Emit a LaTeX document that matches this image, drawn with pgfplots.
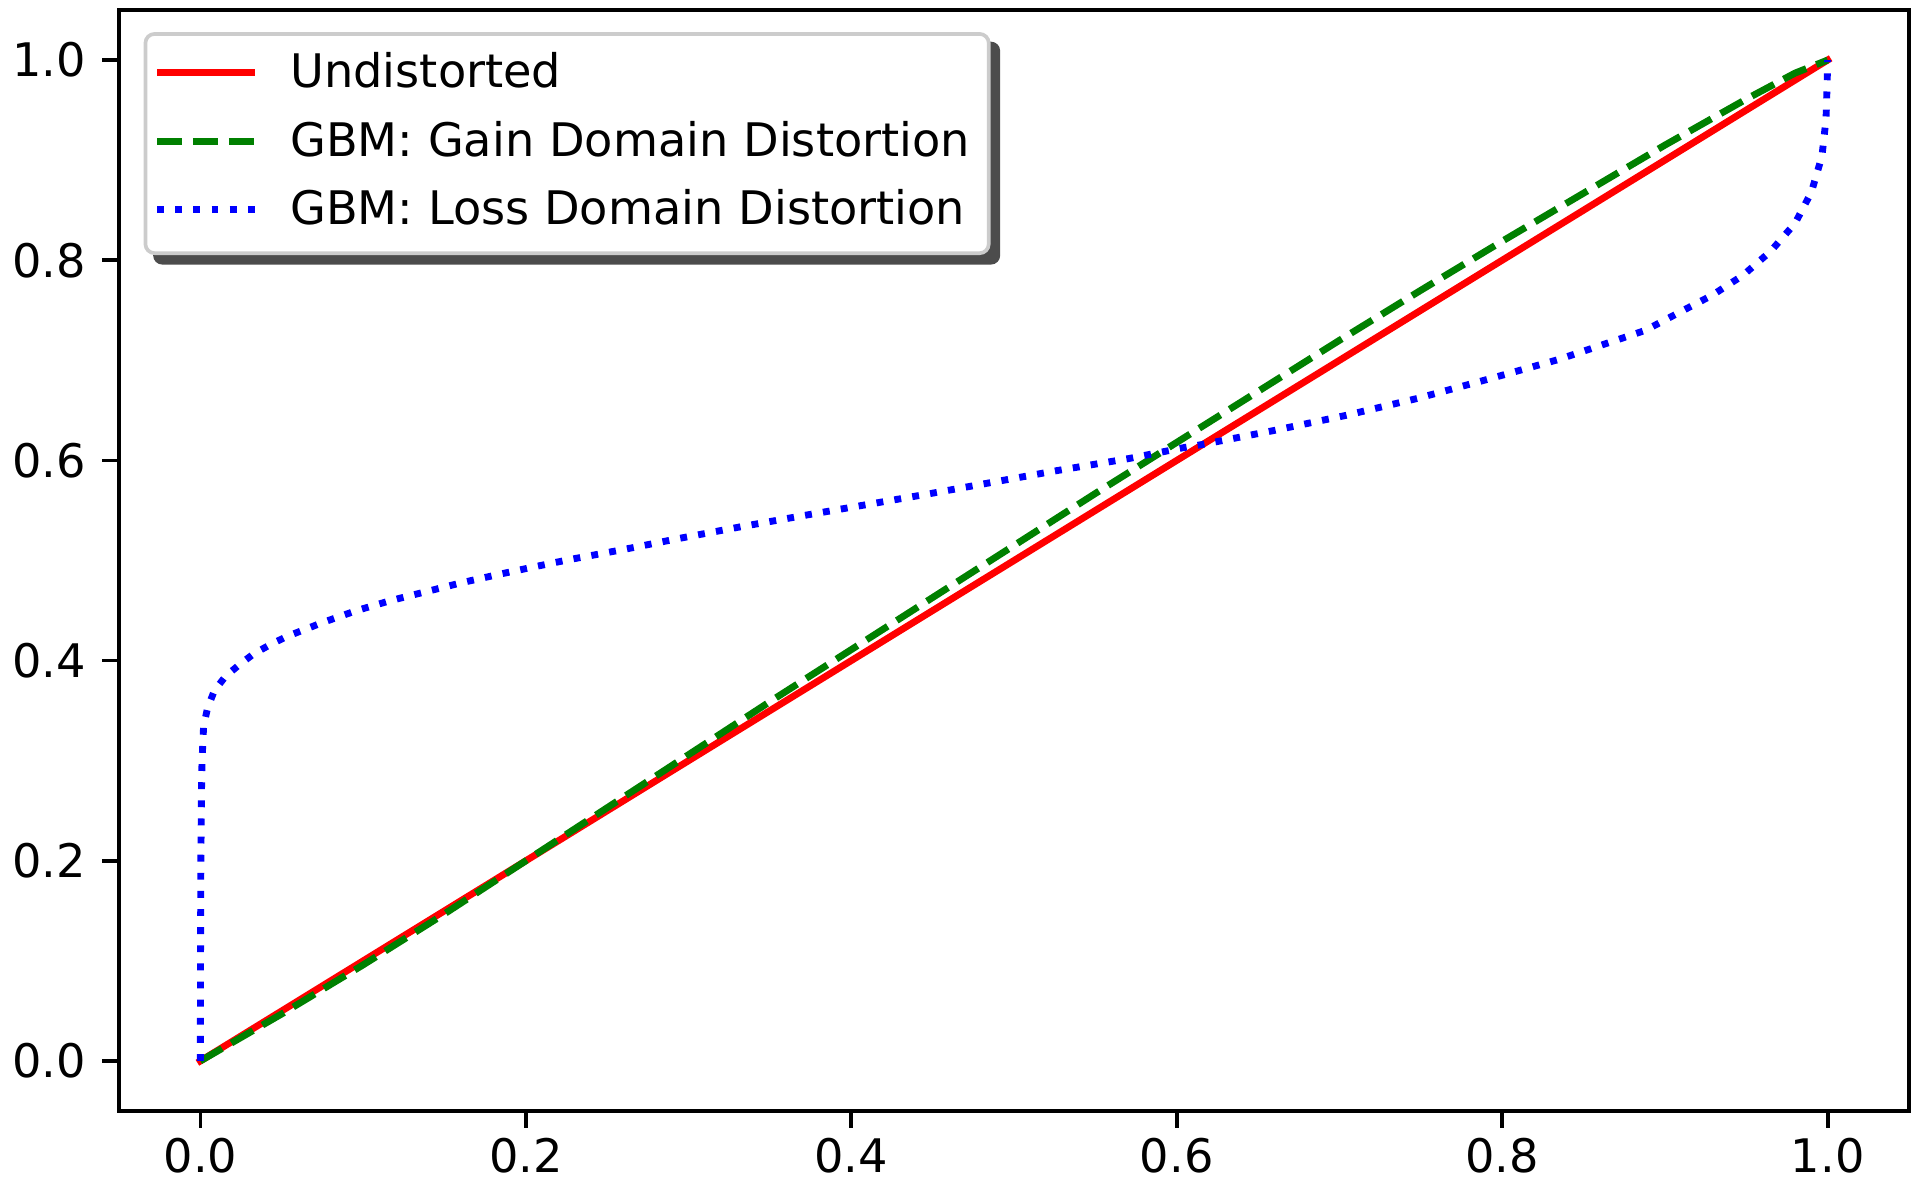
\documentclass[border=0pt]{standalone}
\usepackage{fontspec}
\setmainfont{DejaVu Sans}
\usepackage{pgfplots}
\pgfplotsset{compat=1.18}
\usetikzlibrary{backgrounds}

\definecolor{mplgreen}{rgb}{0,0.5,0}

\begin{document}
\begin{tikzpicture}
\useasboundingbox (-28.56pt,-20.88pt) rectangle (433.44pt,266.64pt);
\begin{axis}[
    at={(0pt,0pt)}, anchor=south west,
    scale only axis,
    width=429.6pt, height=264.24pt,
    xmin=-0.05, xmax=1.05, ymin=-0.05, ymax=1.05,
    xtick={0,0.2,0.4,0.6,0.8,1.0},
    ytick={0,0.2,0.4,0.6,0.8,1.0},
    tick pos=left, tick align=outside,
    major tick length=4pt,
    every tick/.style={black, line width=0.88pt},
    axis line style={line width=0.88pt},
    tick label style={font=\fontsize{11.1}{13}\selectfont, inner sep=0pt},
    /pgf/number format/fixed,
    /pgf/number format/fixed zerofill,
    /pgf/number format/precision=1,
    /pgf/number format/assume math mode=true,
    xticklabel shift=2.3pt,
    yticklabel shift=3.7pt,
    legend cell align=left,
    % text cells are anchored west, so the row origin sits at mid text height
    legend image code/.code={
        \path[draw=none, fill=none] (0pt,-5.01pt) rectangle (22.9pt,5.01pt);
        \draw[#1, overlay, line cap=butt] (-1.69pt,0.59pt) -- (21.9pt,0.59pt);
    },
    legend style={
        name=leg,
        at={(0,1)}, anchor=north west, xshift=5.9pt, yshift=-5.3pt,
        draw=black!20, line width=0.88pt, rounded corners=2.2pt, fill=white,
        inner xsep=4.5pt, inner ysep=4.9pt,
        font=\fontsize{11.1}{13}\selectfont,
        row sep=6.38pt, column sep=7.4pt,
        nodes={inner sep=0pt, text height=8.02pt, text depth=2pt},
    },
]
% undistorted
\addplot[red, line width=1.65pt, line cap=rect] coordinates {(0,0) (1,1)};

% gain domain distortion
\addplot[mplgreen, line width=1.65pt, dash pattern=on 6pt off 2.6pt] coordinates {
    (0,0) (0.05,0.047) (0.1,0.096) (0.15,0.147) (0.2,0.200) (0.25,0.253)
    (0.3,0.306) (0.35,0.359) (0.4,0.411) (0.45,0.463) (0.5,0.515)
    (0.55,0.567) (0.6,0.618) (0.65,0.669) (0.7,0.720) (0.75,0.770)
    (0.8,0.819) (0.85,0.867) (0.9,0.915) (0.95,0.961) (0.98,0.987) (1,1)
};

% loss domain distortion
\addplot[blue, line width=1.65pt, dash pattern=on 1.65pt off 2.7pt] coordinates {
    (0,0) (0.0001,0.1) (0.0003,0.2) (0.0007,0.27) (0.001,0.298)
    (0.0015,0.317) (0.002,0.335) (0.0045,0.353) (0.0086,0.370)
    (0.0153,0.384) (0.024,0.396) (0.033,0.407) (0.043,0.416)
    (0.053,0.424) (0.075,0.438) (0.096,0.450) (0.117,0.460)
    (0.139,0.469) (0.161,0.478) (0.183,0.486) (0.206,0.494)
    (0.227,0.501) (0.26,0.511) (0.294,0.522) (0.333,0.534)
    (0.371,0.545) (0.41,0.556) (0.449,0.567) (0.493,0.580)
    (0.527,0.590) (0.571,0.602) (0.605,0.613) (0.616,0.616)
    (0.660,0.630) (0.704,0.645) (0.748,0.662) (0.791,0.681)
    (0.835,0.701) (0.868,0.719) (0.888,0.730) (0.909,0.748)
    (0.929,0.765) (0.948,0.785) (0.965,0.809) (0.980,0.837)
    (0.990,0.868) (0.9965,0.904) (0.999,0.941) (0.9997,0.978) (1,1)
};

\legend{Undistorted, GBM: Gain Domain Distortion, GBM: Loss Domain Distortion}
\end{axis}
% legend shadow, behind the legend box
\begin{scope}[on background layer]
    \fill[black!70, rounded corners=2.2pt]
        ([shift={(2.3pt,-2.3pt)}]leg.south west) rectangle ([shift={(2.3pt,-2.3pt)}]leg.north east);
\end{scope}
\end{tikzpicture}
\end{document}
